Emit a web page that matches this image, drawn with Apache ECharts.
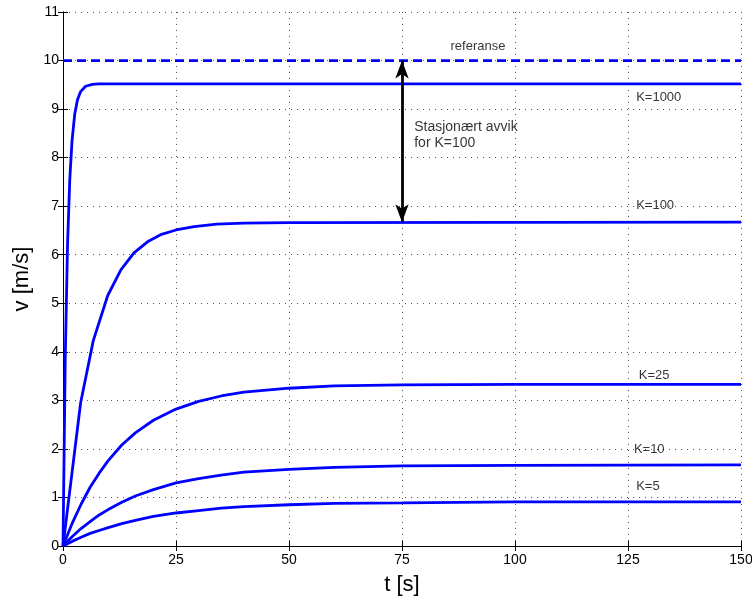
<!DOCTYPE html>
<html><head><meta charset="utf-8">
<script src="https://cdn.jsdelivr.net/npm/echarts@6/dist/echarts.min.js"></script>
<style>html,body{margin:0;padding:0;background:#fff;overflow:hidden}#c{width:752px;height:598px}</style>
</head><body><div id="c"></div>
<script>
// Data
const xTicks = [0, 25, 50, 75, 100, 125, 150];
const yTicks = [0, 1, 2, 3, 4, 5, 6, 7, 8, 9, 10, 11];

const tK1000 = [0, 0.5, 1, 1.5, 2, 2.6, 3.2, 3.9, 5, 6.5, 8, 150];
const vK1000 = [0, 3.89, 6.19, 7.55, 8.35, 8.90, 9.19, 9.36, 9.47, 9.51, 9.52, 9.52];

const tK100 = [0, 3.9, 6.7, 9.9, 12.8, 15.7, 18.9, 21.8, 25, 29, 34, 40, 50, 150];
const vK100 = [0, 2.95, 4.23, 5.16, 5.69, 6.04, 6.28, 6.42, 6.51, 6.58, 6.63, 6.65, 6.66, 6.67];

const tSmooth = [0, 2, 4, 6, 8, 10, 13, 16, 20, 25, 30, 35, 40, 50, 60, 75, 100, 150];
const vK25 = [0, 0.46, 0.86, 1.21, 1.50, 1.76, 2.08, 2.33, 2.59, 2.82, 2.98, 3.09, 3.17, 3.25, 3.30, 3.32, 3.33, 3.33];
const vK10 = [0, 0.19, 0.36, 0.50, 0.64, 0.75, 0.90, 1.03, 1.16, 1.30, 1.39, 1.46, 1.52, 1.58, 1.62, 1.65, 1.66, 1.67];
const vK5  = [0, 0.095, 0.18, 0.26, 0.32, 0.38, 0.46, 0.53, 0.61, 0.68, 0.73, 0.78, 0.81, 0.85, 0.88, 0.89, 0.91, 0.91];

const tRef = [0, 150];
const vRef = [10, 10];

// annotation: arrow from reference down to K=100 steady state
const arrowT = [75, 75];
const arrowV = [10, 6.67];

const curveLabels = ['K=1000', 'K=100', 'K=25', 'K=10', 'K=5'];
const curveLabelT = [126.8, 126.8, 127.4, 126.3, 126.8];
const curveLabelV = [9.25, 7.02, 3.52, 1.98, 1.22];

const refLabel = 'referanse';
const refLabelPos = [91.8, 10.3];
const avvikLabel = 'Stasjonært avvik\nfor K=100';
const avvikLabelPos = [77.7, 8.47];

const zip = (t, v) => t.map((x, i) => [x, v[i]]);
const BLUE = '#0000ff';
const FONT = '"Liberation Sans", Arial, sans-serif';

function curve(name, t, v, extra) {
  return Object.assign({
    name, type: 'line', data: zip(t, v), showSymbol: false, symbol: 'none',
    smooth: false, lineStyle: { color: BLUE, width: 2.8 }, z: 3, silent: true
  }, extra || {});
}

const chart = echarts.init(document.getElementById('c'), null, { renderer: 'canvas' });

const axisCommon = {
  type: 'value', axisLine: { show: true, lineStyle: { color: '#000', width: 1 } },
  axisTick: { show: true, inside: true, length: 5, lineStyle: { color: '#000' } }
};
const gridLine = { show: true, lineStyle: { color: '#555', type: [1, 5], width: 1 } };

chart.setOption({
  animation: false,
  backgroundColor: '#fff',
  grid: { left: 63, right: 11, top: 12, bottom: 52, containLabel: false, outerBoundsMode: 'none' },
  xAxis: [
    Object.assign({}, axisCommon, {
      min: 0, max: 150, interval: 25, position: 'bottom',
      name: 't [s]', nameLocation: 'middle', nameGap: 28,
      nameTextStyle: { fontSize: 22, fontFamily: FONT, color: '#000' },
      axisLabel: { fontSize: 14, fontFamily: FONT, color: '#000', margin: 7,
        formatter: v => xTicks.includes(v) ? String(v) : '' },
      splitLine: gridLine
    }),
    Object.assign({}, axisCommon, {
      min: 0, max: 150, interval: 25, position: 'top',
      axisLabel: { show: false }, splitLine: { show: false }
    })
  ],
  yAxis: [
    Object.assign({}, axisCommon, {
      min: 0, max: 11, interval: 1, position: 'left',
      name: 'v [m/s]', nameLocation: 'middle', nameGap: 27, nameRotate: 90,
      nameTextStyle: { fontSize: 22, fontFamily: FONT, color: '#000' },
      axisLabel: { fontSize: 14, fontFamily: FONT, color: '#000', margin: 4,
        formatter: v => yTicks.includes(v) ? String(v) : '' },
      splitLine: gridLine
    }),
    Object.assign({}, axisCommon, {
      min: 0, max: 11, interval: 1, position: 'right',
      axisLabel: { show: false }, splitLine: { show: false }
    })
  ],
  series: [
    curve('referanse', tRef, vRef, { lineStyle: { color: BLUE, width: 2.8, type: [9, 5] } }),
    curve('K=1000', tK1000, vK1000),
    curve('K=100', tK100, vK100),
    curve('K=25', tSmooth, vK25),
    curve('K=10', tSmooth, vK10),
    curve('K=5', tSmooth, vK5),
    {
      name: 'arrow', type: 'line', data: [], silent: true,
      markLine: {
        silent: true, animation: false,
        symbol: ['arrow', 'arrow'], symbolSize: [10, 18],
        lineStyle: { color: '#000', width: 2.8, type: 'solid' },
        label: { show: false },
        data: [[{ coord: [arrowT[0], arrowV[0]] }, { coord: [arrowT[1], arrowV[1]] }]]
      }
    },
    {
      name: 'labels', type: 'scatter', symbolSize: 0, silent: true, z: 5,
      data: curveLabels.map((s, i) => ({ value: [curveLabelT[i], curveLabelV[i]], name: s })),
      label: { show: true, position: 'right', distance: 0, formatter: p => p.name,
        fontSize: 13, fontFamily: FONT, color: '#000' }
    },
    {
      name: 'refLabel', type: 'scatter', symbolSize: 0, silent: true, z: 5,
      data: [{ value: refLabelPos, name: refLabel }],
      label: { show: true, position: 'inside', formatter: p => p.name,
        fontSize: 13, fontFamily: FONT, color: '#000' }
    },
    {
      name: 'avvikLabel', type: 'scatter', symbolSize: 0, silent: true, z: 5,
      data: [{ value: avvikLabelPos, name: avvikLabel }],
      label: { show: true, position: 'right', distance: 0, formatter: p => p.name,
        fontSize: 14, lineHeight: 16, fontFamily: FONT, color: '#000' }
    }
  ]
});
</script>
</body></html>
